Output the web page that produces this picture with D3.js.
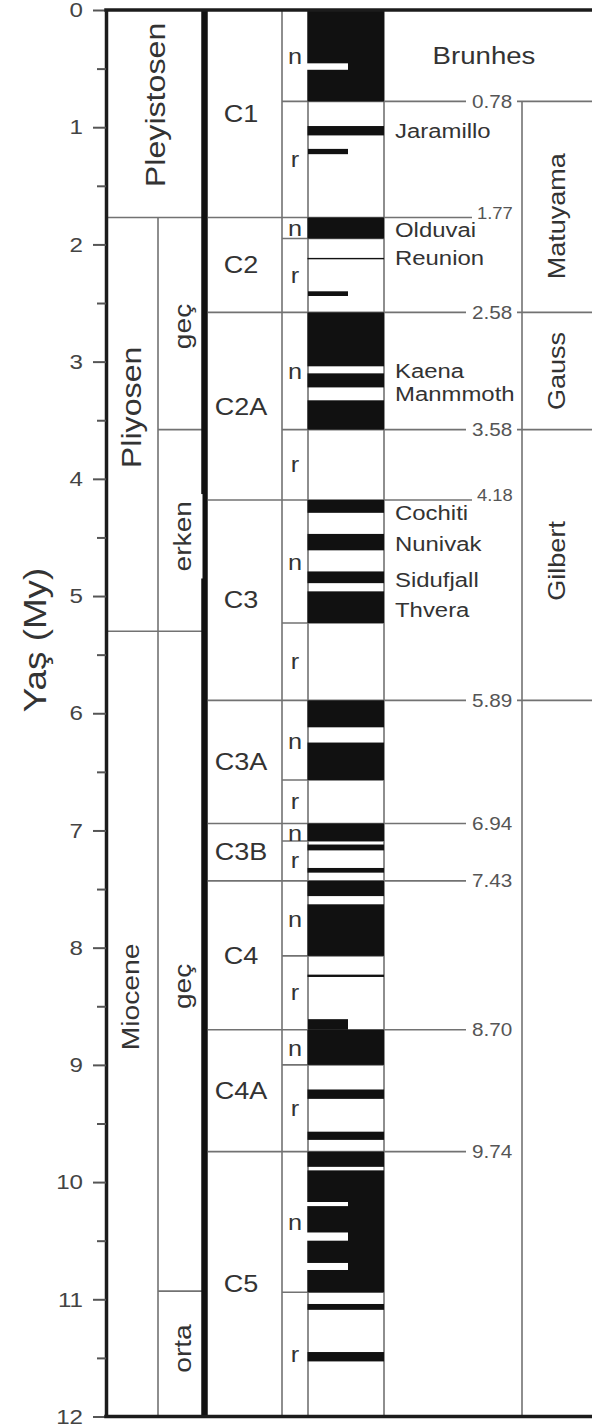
<!DOCTYPE html>
<html>
<head>
<meta charset="utf-8">
<script src="https://cdn.jsdelivr.net/npm/d3@7"></script>
<style>
  html, body { margin: 0; padding: 0; background: #fff; }
  svg { display: block; }
  text { font-family: "Liberation Sans", Arial, sans-serif; fill: #333; }
</style>
</head>
<body>
<svg id="chart" width="592" height="1427"></svg>
<script>
// ---- Age axis (million years) ----
const ageTicks = [0, 1, 2, 3, 4, 5, 6, 7, 8, 9, 10, 11, 12];
const halfTicks = [0.5, 1.5, 2.5, 3.5, 4.5, 5.5, 6.5, 7.5, 8.5, 9.5, 10.5, 11.5];

// ---- Epochs and sub-epochs ----
const epochNames = ["Pleyistosen", "Pliyosen", "Miocene"];
const epochBounds = [0, 1.77, 5.3, 12];
const epochLabelAt = [0.81, 3.39, 8.42];

const subEpochNames = ["geç", "erken", "geç", "orta"];
const subEpochBounds = [1.77, 3.58, 5.3, 10.93, 12];
const subEpochLabelAt = [2.70, 4.49, 8.33, 11.42];

// ---- Chrons and their normal / reversed split ----
const chronNames = ["C1", "C2", "C2A", "C3", "C3A", "C3B", "C4", "C4A", "C5"];
const chronBounds = [0, 1.77, 2.58, 4.18, 5.89, 6.94, 7.43, 8.70, 9.74, 12];
const chronSplits = [0.78, 1.95, 3.58, 5.23, 6.57, 7.09, 8.07, 9.00, 10.94];

// ---- Normal polarity intervals (full width) ----
const normalStart = [0, 0.99, 1.77, 2.115, 2.58, 3.10, 3.33, 4.18, 4.47, 4.79, 4.96, 5.89, 6.25, 6.94, 7.12, 7.32, 7.43, 7.63, 8.23, 8.70, 9.21, 9.57, 9.74, 9.90, 11.04, 11.45];
const normalEnd   = [0.78, 1.07, 1.95, 2.127, 3.04, 3.22, 3.58, 4.29, 4.61, 4.89, 5.23, 6.12, 6.57, 7.09, 7.17, 7.36, 7.56, 8.07, 8.25, 9.00, 9.29, 9.64, 9.87, 10.94, 11.09, 11.53];

// short normal events (half width)
const shortNormalStart = [1.185, 2.40, 8.61];
const shortNormalEnd   = [1.23, 2.44, 8.70];

// short reversed events inside normal chrons (half width)
const shortReversedStart = [0.455, 10.17, 10.43, 10.69];
const shortReversedEnd   = [0.51, 10.205, 10.50, 10.75];

// ---- Named subchrons ----
const eventNames = ["Jaramillo", "Olduvai", "Reunion", "Kaena", "Manmmoth", "Cochiti", "Nunivak", "Sidufjall", "Thvera"];
const eventLabelAt = [1.03, 1.88, 2.12, 3.08, 3.28, 4.29, 4.56, 4.86, 5.12];

// ---- Magnetic polarity epochs ----
const magEpochNames = ["Brunhes", "Matuyama", "Gauss", "Gilbert"];
const magEpochBounds = [0, 0.78, 2.58, 3.58, 5.89];
const magEpochLabelAt = [0.39, 1.76, 3.08, 4.70];

// ---- Dated boundaries ----
const boundaryAges = [0.78, 1.77, 2.58, 3.58, 4.18, 5.89, 6.94, 7.43, 8.70, 9.74];
const raisedBoundaryAges = [1.77, 4.18];

// ================= layout =================
const W = 592;
const X_AXIS = 106, X_SUB = 158, X_THICK = 204.5, X_CHRON = 208;
const X_NR = 282, X_BAR_L = 308, X_BAR_R = 384, X_HALF = 348;
const X_EVENT = 395, X_LINE_END = 466, X_LINE_END_RAISED = 472;
const X_BLABEL = 472, X_BLABEL_RAISED = 477, X_CONT = 517, X_MAG = 522;
const STRETCH = 1.15;
const GRAY = "#727272";

const y = d3.scaleLinear().domain([0, 12]).range([10, 1416.5]);
const svg = d3.select("#chart");

svg.append("rect").attr("width", W).attr("height", 1427).attr("fill", "#fff");

const gLines = svg.append("g").attr("stroke", GRAY).attr("stroke-width", 1.6).attr("fill", "none");
const gBars = svg.append("g");
const gFrame = svg.append("g");
const gText = svg.append("g");

function hline(x1, x2, age) {
  gLines.append("line").attr("x1", x1).attr("x2", x2).attr("y1", y(age)).attr("y2", y(age));
}
function vline(x, a0, a1) {
  gLines.append("line").attr("x1", x).attr("x2", x).attr("y1", y(a0)).attr("y2", y(a1));
}

// vertical column separators
vline(X_SUB, epochBounds[1], 12);
vline(X_NR, 0, 12);
vline(X_BAR_L, 0, 12);
vline(X_BAR_R, 0, 12);
vline(X_MAG, magEpochBounds[1], 12);

// epoch and sub-epoch boundaries
epochBounds.slice(1, -1).forEach(a => hline(X_AXIS, X_THICK, a));
subEpochBounds.slice(1, -1).filter(a => !epochBounds.includes(a)).forEach(a => hline(X_SUB, X_THICK, a));

// chron / subchron boundaries, broken around the dated label
const innerChron = chronBounds.slice(1, -1);
const allMarks = Array.from(new Set(innerChron.concat(chronSplits))).sort((a, b) => a - b);
allMarks.forEach(a => {
  const left = innerChron.includes(a) ? X_CHRON : X_NR;
  let right = X_BAR_R;
  if (boundaryAges.includes(a)) right = raisedBoundaryAges.includes(a) ? X_LINE_END_RAISED : X_LINE_END;
  hline(left, right, a);
});
magEpochBounds.slice(1).forEach(a => hline(X_CONT, W + 2, a));

// polarity bars
const barW = X_BAR_R - X_BAR_L;
normalStart.forEach((s, i) => {
  gBars.append("rect").attr("x", X_BAR_L - 0.5).attr("width", barW + 0.5)
    .attr("y", y(s)).attr("height", y(normalEnd[i]) - y(s)).attr("fill", "#111");
});
shortNormalStart.forEach((s, i) => {
  gBars.append("rect").attr("x", X_BAR_L).attr("width", X_HALF - X_BAR_L)
    .attr("y", y(s)).attr("height", y(shortNormalEnd[i]) - y(s)).attr("fill", "#111");
});
shortReversedStart.forEach((s, i) => {
  gBars.append("rect").attr("x", X_BAR_L - 2.5).attr("width", X_HALF - X_BAR_L + 2.5)
    .attr("y", y(s)).attr("height", y(shortReversedEnd[i]) - y(s)).attr("fill", "#fff");
});

// age axis on the left frame edge
const axis = d3.axisLeft(y).tickValues(ageTicks).tickSize(13).tickPadding(10).tickSizeOuter(0)
  .tickFormat(d3.format("d"));
const gAxis = gFrame.append("g").attr("transform", `translate(${X_AXIS},0)`).call(axis);
gAxis.select(".domain").attr("stroke", "#1c1c1c").attr("stroke-width", 3.5);
gAxis.selectAll(".tick line").attr("stroke", "#555").attr("stroke-width", 2);
gAxis.selectAll(".tick text")
  .attr("x", -23 / STRETCH).attr("transform", `scale(${STRETCH},1)`)
  .style("font-size", "21px").style("fill", "#444")
  .style("font-family", '"Liberation Sans", Arial, sans-serif');

const minorAxis = d3.axisLeft(y).tickValues(halfTicks).tickSize(9).tickSizeOuter(0).tickFormat("");
const gMinor = gFrame.append("g").attr("transform", `translate(${X_AXIS},0)`).call(minorAxis);
gMinor.select(".domain").remove();
gMinor.selectAll(".tick line").attr("stroke", "#555").attr("stroke-width", 2);

// thick separator, top and bottom borders
gFrame.append("line").attr("x1", X_THICK).attr("x2", X_THICK).attr("y1", y(0)).attr("y2", y(12))
  .attr("stroke", "#111").attr("stroke-width", 6.5);
[0, 12].forEach(a => gFrame.append("line").attr("x1", X_AXIS - 1.75).attr("x2", W + 2)
  .attr("y1", y(a)).attr("y2", y(a)).attr("stroke", "#1c1c1c").attr("stroke-width", 3.5));

// text helper: horizontally widened glyphs, optional rotation
function label(x, yy, txt, size, opts = {}) {
  const rot = opts.rotate || 0;
  const t = gText.append("text")
    .attr("transform", `translate(${x},${yy}) rotate(${rot}) scale(${STRETCH},1)`)
    .attr("text-anchor", opts.anchor || "middle")
    .attr("dominant-baseline", "central")
    .style("font-size", size + "px")
    .text(txt);
  if (opts.fill) t.style("fill", opts.fill);
  return t;
}

// axis title
label(35, 640, "Yaş (My)", 32, { rotate: -90 });

// epochs
const epochX = [155, 131, 131];
const epochSize = [28, 28, 24.6];
epochNames.forEach((n, i) => label(epochX[i], y(epochLabelAt[i]), n, epochSize[i], { rotate: -90 }));

// sub-epochs (the early Pliocene label sits on a white patch)
subEpochNames.forEach((n, i) => {
  const cy = y(subEpochLabelAt[i]);
  if (n === "erken") {
    const len = 2.5 * 24.5 * STRETCH + 14;
    gText.append("rect").attr("x", X_SUB + 1.5).attr("width", X_THICK - 2 - X_SUB - 1.5)
      .attr("y", cy - len / 2).attr("height", len).attr("fill", "#fff");
  }
  label(183, cy, n, 24.5, { rotate: -90 });
});

// chron names
chronNames.forEach((n, i) => {
  label(241, (y(chronBounds[i]) + y(chronBounds[i + 1])) / 2, n, 23.5);
});

// n / r letters
chronNames.forEach((n, i) => {
  const top = y(chronBounds[i]), mid = y(chronSplits[i]), bot = y(chronBounds[i + 1]);
  label(295, (top + mid) / 2 + 1, "n", 22);
  label(295, (mid + bot) / 2, "r", 22);
});

// event names
eventNames.forEach((n, i) => label(X_EVENT, y(eventLabelAt[i]), n, 20.8, { anchor: "start" }));

// magnetic epochs
magEpochNames.forEach((n, i) => {
  if (i === 0) label(484, y(magEpochLabelAt[i]), n, 24);
  else label(557, y(magEpochLabelAt[i]), n, 23.5, { rotate: -90 });
});

// dated boundary values
const fmt = d3.format(".2f");
boundaryAges.forEach(a => {
  const raised = raisedBoundaryAges.includes(a);
  label(raised ? X_BLABEL_RAISED : X_BLABEL, y(a) - (raised ? 4 : 0), fmt(a), raised ? 16 : 18,
    { anchor: "start", fill: "#555" });
});

// lines above the n/r letters that share thin cells
gText.raise();
</script>
</body>
</html>
